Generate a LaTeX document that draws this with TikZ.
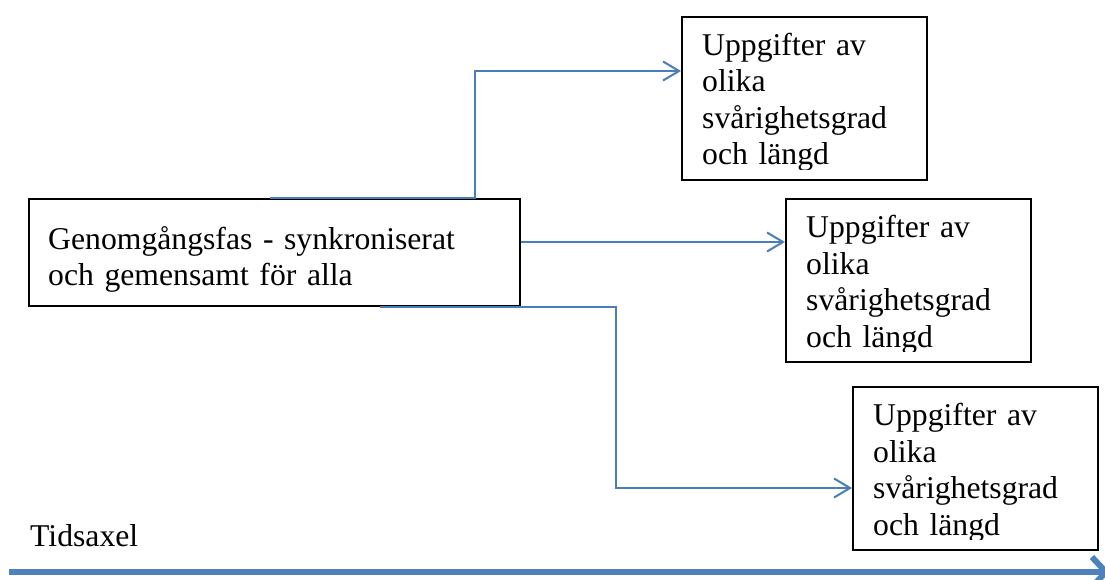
\documentclass[tikz,border=0pt]{standalone}
\usepackage{fontspec}
\setmainfont{Liberation Serif}
\usetikzlibrary{arrows.meta,calc}
\definecolor{conblue}{HTML}{4A7EBB}
\definecolor{axisblue}{HTML}{4F81BD}
\tikzset{
  framebox/.style={draw=black, line width=1.6pt, inner sep=0pt, anchor=north west},
  taskbox/.style={framebox, minimum width=245pt, minimum height=163pt},
  txt/.style={font=\fontsize{31.7}{36.5}\selectfont, inner sep=0pt, anchor=base west, text width=470pt, align=left},
  conn/.style={draw=conblue, line width=2pt, -{Straight Barb[length=16pt,width=19pt]}},
  axisline/.style={draw=axisblue, line width=6pt, -{Straight Barb[length=14pt,width=30pt]}},
}
\begin{document}
\begin{tikzpicture}[x=1pt,y=-1pt]
\useasboundingbox (0,0) rectangle (1105,580);

% main box
\node[framebox, minimum width=491pt, minimum height=107pt] (main) at (28,198) {};
\node[txt] (maintxt) at ($(main.north west)+(20,51)$) {Genomgångsfas - synkroniserat\\och gemensamt för alla};

% task boxes
\node[taskbox] (t1) at (681,16) {};
\node[taskbox] (t2) at (785,198) {};
\node[taskbox] (t3) at (852,386) {};
\foreach \b in {t1,t2,t3}{
  \begin{scope}
    \clip (\b.north west) rectangle ($(\b.south east)+(0,-11)$);
    \node[txt] (\b txt) at ($(\b.north west)+(21,39.5)$) {Uppgifter av\\olika\\svårighetsgrad\\och längd};
  \end{scope}
}

% connectors
\coordinate (s1) at ($(main.north west)+(242,0)$);
\coordinate (e1) at ($(t1.north west)+(0,55)$);
\draw[conn] (s1) -- ++(205,0) |- (e1);

\coordinate (s2) at ($(main.north east)+(0,44)$);
\coordinate (e2) at ($(t2.north west)+(0,44)$);
\draw[conn] (s2) -- (e2);

\coordinate (s3) at ($(main.south west)+(352,0)$);
\coordinate (e3) at ($(t3.north west)+(0,102)$);
\draw[conn] (s3) -- ++(236,0) |- (e3);

% time axis
\node[txt, text width=200pt] (tid) at (30,546) {Tidsaxel};
\coordinate (ax0) at (9,572);
\coordinate (ax1) at (1110,572);
\draw[axisline] (ax0) -- (ax1);
\end{tikzpicture}
\end{document}
